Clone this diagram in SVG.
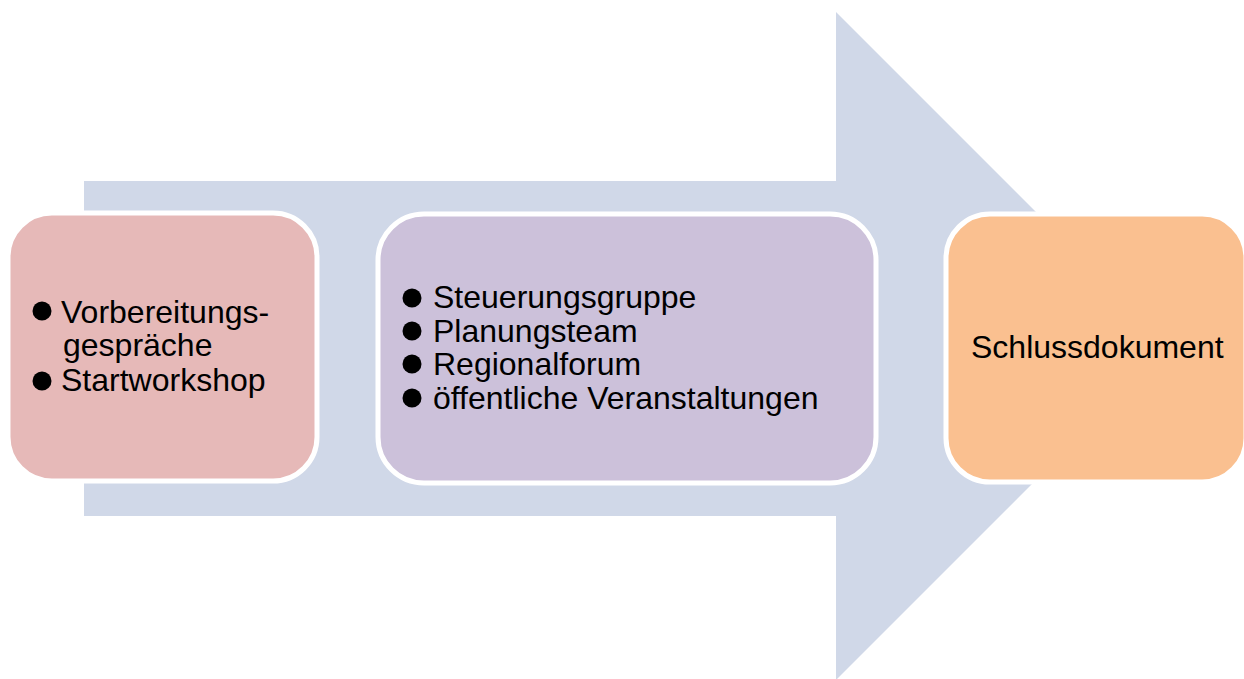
<svg xmlns="http://www.w3.org/2000/svg" width="1244" height="679" viewBox="0 0 1244 679">
<style>
.box{stroke:#FFFFFF;stroke-width:5}
.t{font-family:"Liberation Sans",Arial,sans-serif;font-size:32px;fill:#000000}
.b{fill:#000000}
</style>
<rect width="1244" height="679" fill="#FFFFFF"/>
<g id="connectors">
<polygon id="big-arrow" points="84,181 836,181 836,12 1170,346 836,680 836,516 84,516" fill="#D0D8E8"/>
</g>
<g id="node-prep">
<rect class="box" x="8" y="213" width="309" height="268" rx="44" ry="44" fill="#E6B9B8"/>
<circle class="b" cx="42" cy="311" r="9.5"/>
<text class="t" x="61" y="323">Vorbereitungs-</text>
<text class="t" x="63" y="356">gespräche</text>
<circle class="b" cx="42" cy="381" r="9.5"/>
<text class="t" x="61" y="391">Startworkshop</text>
</g>
<g id="node-process">
<rect class="box" x="378" y="214" width="498" height="269" rx="46" ry="46" fill="#CCC1DA"/>
<circle class="b" cx="412" cy="298" r="9.5"/>
<text class="t" x="433" y="308">Steuerungsgruppe</text>
<circle class="b" cx="412" cy="331" r="9.5"/>
<text class="t" x="433" y="342">Planungsteam</text>
<circle class="b" cx="412" cy="364" r="9.5"/>
<text class="t" x="433" y="375">Regionalforum</text>
<circle class="b" cx="412" cy="398" r="9.5"/>
<text class="t" x="433" y="409">öffentliche Veranstaltungen</text>
</g>
<g id="node-final">
<rect class="box" x="946" y="214" width="300" height="268" rx="44" ry="44" fill="#FAC090"/>
<text class="t" x="971" y="358">Schlussdokument</text>
</g>
</svg>
